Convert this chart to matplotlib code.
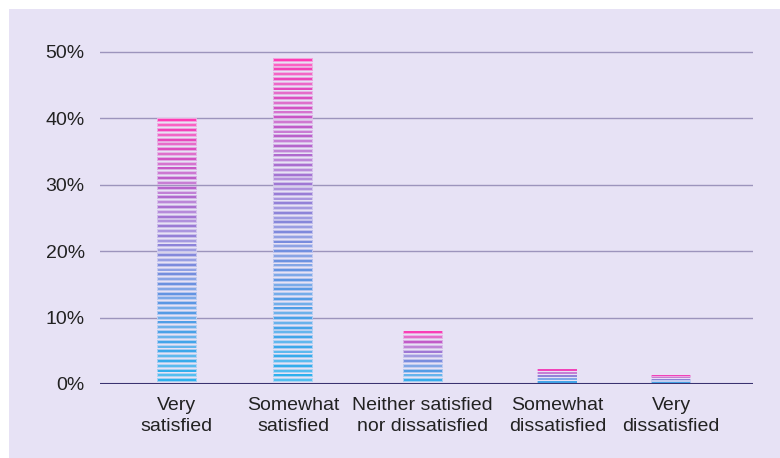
import numpy as np
import matplotlib
matplotlib.use("Agg")
import matplotlib.pyplot as plt
from matplotlib.colors import LinearSegmentedColormap, to_rgb
from matplotlib.patches import Rectangle

categories = ["Very\nsatisfied", "Somewhat\nsatisfied", "Neither satisfied\nnor dissatisfied",
              "Somewhat\ndissatisfied", "Very\ndissatisfied"]
shares = [39.8, 48.9, 7.9, 2.2, 1.3]
yticks = [0, 10, 20, 30, 40, 50]
ytick_labels = ["0%", "10%", "20%", "30%", "40%", "50%"]

# category centres (slightly uneven, following label widths)
xpos = [0.0, 0.94, 1.99, 3.08, 4.0]

BG = "#E7E2F5"
TEXT = "#222222"
plt.rcParams["font.family"] = ["Liberation Sans", "DejaVu Sans"]

grad = LinearSegmentedColormap.from_list(
    "stripe", [(0.0, "#2AB2EE"), (0.3, "#5A98E4"), (0.55, "#9282D8"),
               (0.8, "#C25AC8"), (1.0, "#FF3CB4")])


def blend(c, bg, a):
    c, bg = np.array(to_rgb(c)), np.array(to_rgb(bg))
    return tuple(c * (1 - a) + bg * a)


W, H = 780, 458
fig = plt.figure(figsize=(W / 100, H / 100), dpi=100, facecolor="white")
# lavender panel with a thin white margin at the top and left
fig.patches.append(Rectangle((9 / W, -0.02), 1.05, 1.02 - 9 / H,
                             transform=fig.transFigure, facecolor=BG,
                             edgecolor="none", zorder=-10))

ax = fig.add_axes([100 / W, 74 / H, 653 / W, (384 - 48.2) / H])
ax.set_zorder(1)
ax.patch.set_alpha(0)

bar_w = 0.31
for x, v in zip(xpos, shares):
    n = max(int(round(v / 0.72)), 5)
    period = v / n
    core = min(0.3, period * 0.5)
    halo = min(0.58, period * 0.85)
    for i in range(n):
        top = v - i * period
        t = (top - core / 2) / v
        c = grad(t)
        if i % 2 == 1:
            c = blend(c, "#FFFFFF", 0.18)
        hc = blend(c, BG, 0.62)
        ax.bar(x, halo, bottom=top - core / 2 - halo / 2, width=bar_w + 0.014,
               color=hc, linewidth=0, zorder=3)
        ax.bar(x, core, bottom=top - core, width=bar_w,
               color=c, linewidth=0, zorder=4)

for y in yticks[1:]:
    ax.axhline(y, color="#9C94BC", linewidth=1.0, zorder=1)
ax.axhline(0, color="#3A3270", linewidth=1.5, zorder=5)

ax.set_xlim(-0.623, 4.664)
ax.set_ylim(0, 50.5)
ax.set_yticks(yticks)
ax.set_yticklabels(ytick_labels, fontsize=14, color=TEXT)
ax.set_xticks(xpos)
ax.set_xticklabels(categories, fontsize=14, color=TEXT, linespacing=1.35)
ax.tick_params(axis="both", length=0)
ax.tick_params(axis="y", pad=11)
ax.tick_params(axis="x", pad=9)
for s in ax.spines.values():
    s.set_visible(False)

fig.savefig("out.png", dpi=100, facecolor="white")
